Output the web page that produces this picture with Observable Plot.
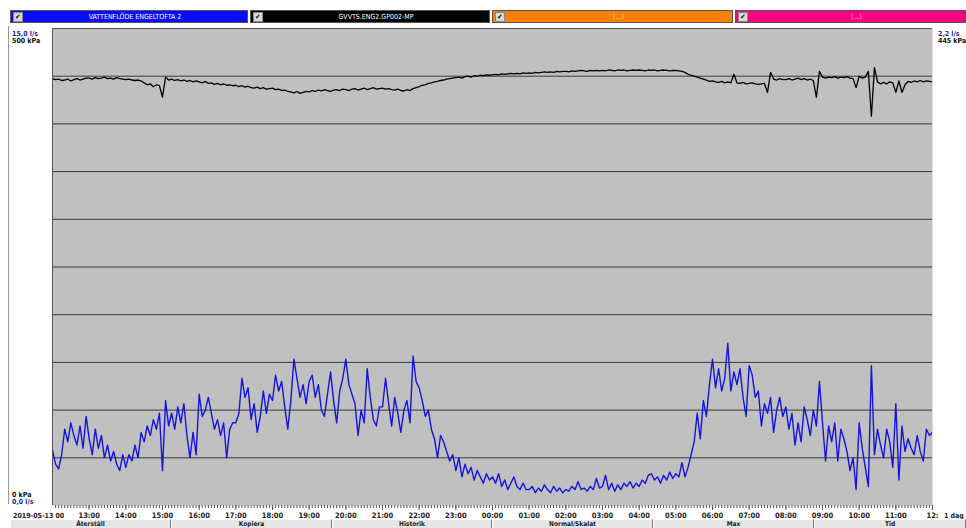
<!DOCTYPE html>
<html><head><meta charset="utf-8">
<script src="https://cdn.jsdelivr.net/npm/d3@7"></script>
<script src="https://cdn.jsdelivr.net/npm/@observablehq/plot@0.6"></script>
<style>
body{margin:0;background:#fff;width:966px;height:528px;overflow:hidden;position:relative;font-family:"DejaVu Sans Condensed","DejaVu Sans",sans-serif;}
#chart{position:absolute;left:0;top:0;}
.leg{position:absolute;top:10px;height:13px;box-sizing:border-box;border:1px solid #555;}
.cb{position:absolute;left:2px;top:1px;width:8px;height:8px;background:#d8d8d8;border:1px solid #888;font-size:7px;line-height:8px;text-align:center;color:#000;}
.lt{position:absolute;left:12px;right:0;top:1px;text-align:center;font-size:7px;line-height:10px;color:#fff;white-space:nowrap;}
.lab{position:absolute;font-size:7px;font-weight:bold;white-space:nowrap;line-height:8px;}
.btn{position:absolute;top:519px;height:9px;box-sizing:border-box;padding-top:0;background:#e6e6e6;border-top:1px solid #fff;border-left:1px solid #fff;border-right:1px solid #777;font-size:6.5px;font-weight:bold;text-align:center;line-height:8px;color:#222;overflow:visible;}
</style></head>
<body>
<div id="chart"></div>
<script>
const seriesNames = ["VATTENFLÖDE ENGELTOFTA 2", "GVVTS.ENG2.GP002-MP", "(...)", "(...)"];
const buttonLabels = ["Återställ", "Kopiera", "Historik", "Normal/Skalat", "Max", "Tid"];
const startLabel = "2019-05-13 00";
const spanLabel = "1 dag";
const axisLabelsLeft = ["15,0 l/s", "500 kPa", "0 kPa", "0,0 l/s"];
const axisLabelsRight = ["2,2 l/s", "445 kPa"];
const flowMax = 15;      // l/s at top
const pressureMax = 500; // kPa at top
const gridKPa = [50,100,150,200,250,300,350,400,450];

// 5-minute samples from 2019-05-13 12:00 to 2019-05-14 12:00, flow in l/s
const flowValues = [
 1.75,1.3,1.15,1.6,2.4,2.0,2.6,2.2,1.9,2.5,1.8,2.8,
 2.1,1.6,2.4,1.8,2.2,1.5,1.9,1.4,1.7,1.3,1.1,1.6,
 1.2,1.6,1.4,1.9,1.5,2.3,2.0,2.5,2.2,2.7,2.4,2.9,
 1.1,3.3,2.5,2.9,2.4,3.1,2.6,3.2,2.2,1.5,2.3,1.6,
 3.5,2.8,3.0,3.4,2.9,2.4,2.7,2.2,2.6,1.5,2.4,2.6,
 2.6,2.9,4.0,3.4,3.7,2.7,3.2,2.3,2.8,3.6,2.9,3.5,
 3.3,4.1,3.6,3.9,3.1,2.4,3.3,4.6,4.0,3.4,3.8,3.2,
 3.9,4.1,3.4,3.8,3.0,2.8,3.5,4.2,3.3,2.6,3.6,4.0,
 4.6,3.8,3.5,3.2,2.2,3.0,2.6,4.3,3.4,2.7,2.5,3.1,
 3.1,4.0,3.2,2.5,3.4,2.9,2.3,3.0,3.3,2.6,4.7,3.9,
 3.7,3.3,2.8,3.0,2.4,2.1,1.5,2.2,2.0,1.7,1.4,1.6,
 1.1,1.5,0.9,1.3,1.0,1.2,0.8,1.1,0.9,0.7,1.0,0.8,
 0.9,0.7,1.0,0.6,0.8,0.5,0.7,0.9,0.6,0.5,0.7,0.5,
 0.5,0.6,0.4,0.55,0.45,0.65,0.5,0.4,0.6,0.45,0.55,0.4,
 0.5,0.45,0.6,0.5,0.75,0.5,0.55,0.45,0.6,0.5,0.85,0.55,
 0.6,0.95,0.5,0.7,0.45,0.65,0.5,0.7,0.6,0.75,0.55,0.7,
 0.6,0.8,0.7,0.95,1.0,0.8,0.9,0.7,0.95,0.8,1.05,0.85,
 1.0,0.9,1.35,0.9,1.2,1.6,2.0,2.9,2.1,3.3,2.8,3.8,
 4.6,3.7,4.3,3.6,4.0,5.1,3.6,4.2,3.8,4.3,3.4,2.8,
 4.4,4.1,3.4,3.6,2.5,3.2,2.9,3.4,2.3,3.0,3.4,2.8,
 3.1,2.4,2.9,1.9,2.6,2.0,3.1,2.7,2.2,3.0,2.5,3.9,
 2.6,1.4,2.5,2.0,2.6,1.4,2.4,2.1,1.7,1.1,1.5,0.5,
 2.6,1.8,1.2,0.6,4.4,1.6,2.4,1.9,1.5,2.4,2.0,1.2,
 3.2,0.8,2.5,1.7,2.1,1.8,1.6,2.2,1.7,1.4,2.4,2.2,
 2.3
];

// 5-minute samples, pressure in kPa
const pressureValues = [
 447.5,446.5,447,445.5,446,447,445,446.5,447.5,446,447,448,
 448,447,448.5,447.5,448,449,447.5,448,447,448.5,447.5,447,
 446.5,447,446,445.5,446,445,443,441,442,439,441,440,
 428,449,446,447,445.5,446.5,445,446,444.5,445.5,444,445,
 444,443,444.5,442.5,443,441.5,442.5,441,442,440.5,441,440,
 440.5,439,440,438.5,439.5,438,437.5,438.5,437,438,436.5,437,
 437.5,436,436.5,435,435.5,434,433.5,432.5,434,432,433,434,
 433.5,435,434,435.5,434.5,436,435,434,435.5,436,435,436.5,
 436,435,436.5,437,435.5,436.5,437.5,436,437,438,436.5,437,
 437.5,436.5,437,436,435.5,436.5,435,434.5,436,435,437,438,
 439,440.5,441,442.5,443,444,444.5,445.5,446,447,447.5,448,
 448.5,449,448,449.5,450,449,450.5,450,451,450.5,451.5,451,
 451.5,452,451.5,452.5,452,452.5,453,452.5,453,452.5,453.5,453,
 453.5,453,454,453.5,454,454.5,454,454.5,454,455,454.5,455,
 455,454.5,455.5,455,455.5,456,455.5,455,456,455.5,456,455.5,
 456,455.5,456.5,456,455.5,456.5,456,456.5,455.5,456,456.5,456,
 456.5,456,455.5,456.5,456,456.5,455.5,456,456.5,456,455.5,456,
 456,455.5,455,454,452,451,450,449,448,447,446,444.5,
 445,444,443.5,444.5,443,444,443,452,443,442.5,443.5,442,
 442.5,443,442,441.5,442,442.5,433,454,447,446,447.5,446.5,
 446.5,447.5,446,447,448,446.5,447.5,446,447,445.5,428,455,
 449,448,449,448.5,449.5,448,449,448.5,449.5,448,447.5,438,
 450,448,449,455,408,459,444,442,443.5,442,444,443,
 433,445,433,441,444.5,443.5,445,444,445.5,444,445,444.5,
 444
];

const start = Date.UTC(2019, 4, 13, 12);
const stepMs = 5 * 60 * 1000;
const end = start + 24 * 3600 * 1000;
const flowData = flowValues.map((v, i) => ({t: new Date(start + i * stepMs), v}));
const pressData = pressureValues.map((v, i) => ({t: new Date(start + i * stepMs), v}));
const hourTicks = d3.range(1, 25).map(h => new Date(start + h * 3600e3));
const minorTicks = d3.range(1, 288).map(i => new Date(start + i * stepMs));

const plot = Plot.plot({
  width: 966, height: 528,
  marginLeft: 52, marginRight: 34, marginTop: 28, marginBottom: 23,
  style: {background: "transparent", fontFamily: '"DejaVu Sans Condensed","DejaVu Sans",sans-serif', fontSize: "7.5px", fontWeight: "bold", color: "#222"},
  x: {type: "utc", domain: [new Date(start), new Date(end)]},
  y: {domain: [0, pressureMax], axis: null},
  marks: [
    Plot.frame({fill: "#c0c0c0", stroke: null}),
    Plot.ruleY(gridKPa, {stroke: "#3a3a3a", strokeWidth: 1}),
    Plot.line(pressData, {x: "t", y: "v", stroke: "#000", strokeWidth: 1.3}),
    Plot.line(flowData, {x: "t", y: d => d.v * pressureMax / flowMax, stroke: "#1414e0", strokeWidth: 1.4}),
    Plot.ruleX([new Date(start)], {stroke: "#555", strokeWidth: 1}),
    Plot.ruleY([pressureMax], {stroke: "#555", strokeWidth: 1}),
    Plot.ruleX([new Date(end)], {stroke: "#ddd", strokeWidth: 1}),
    Plot.axisX(minorTicks, {tickSize: 3, tickFormat: () => "", stroke: "#555"}),
    Plot.axisX(hourTicks, {tickSize: 5, tickPadding: 2, stroke: "#555", fill: "#222",
      tickFormat: d => d.getTime() === end ? "12:" : d3.utcFormat("%H:%M")(d)})
  ]
});
document.getElementById("chart").appendChild(plot);

// legend bar
const legColors = ["#0a0aff", "#000000", "#ff8000", "#ff0080"];
const legText = ["#ffffff", "#ffffff", "#ffd8b0", "#ffc8e0"];
const legLeft = [10, 250, 492, 735];
const legWidth = [238, 240, 241, 231];
seriesNames.forEach((n, i) => {
  const d = document.createElement("div");
  d.className = "leg";
  d.style.left = legLeft[i] + "px"; d.style.width = legWidth[i] + "px"; d.style.background = legColors[i];
  d.innerHTML = `<span class="cb">✔</span><span class="lt" style="color:${legText[i]}">${n}</span>`;
  document.body.appendChild(d);
});

function lab(text, x, y, color) {
  const d = document.createElement("div");
  d.className = "lab"; d.textContent = text;
  d.style.top = y + "px"; d.style.color = color; d.style.left = x + "px";
  document.body.appendChild(d);
}
lab(axisLabelsLeft[0], 12, 30, "#2828a8");
lab(axisLabelsLeft[1], 12, 37, "#111");
lab(axisLabelsLeft[2], 12, 491, "#111");
lab(axisLabelsLeft[3], 12, 498, "#2828a8");
lab(axisLabelsRight[0], 938, 30, "#2828a8");
lab(axisLabelsRight[1], 938, 37, "#111");
lab(startLabel, 13, 512, "#222");
lab(spanLabel, 944, 512, "#222");

// left panel border line
const pb = document.createElement("div");
pb.style.cssText = "position:absolute;left:8px;top:26px;width:1px;height:478px;background:#999;";
document.body.appendChild(pb);

// buttons
const btnLeft = [10, 171, 332, 492, 653, 814];
const btnWidth = [161, 161, 160, 161, 161, 152];
buttonLabels.forEach((b, i) => {
  const d = document.createElement("div");
  d.className = "btn"; d.textContent = b;
  d.style.left = btnLeft[i] + "px"; d.style.width = btnWidth[i] + "px";
  document.body.appendChild(d);
});
</script>
</body></html>
